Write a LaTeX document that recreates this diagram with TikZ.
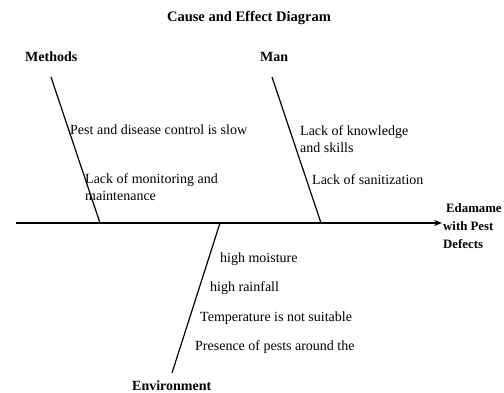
\documentclass[tikz,border=0pt]{standalone}
\usepackage{fontspec}
\setmainfont{Liberation Serif}
\usepackage{tikz}
\usetikzlibrary{arrows.meta,positioning}

\begin{document}
\begin{tikzpicture}[x=1pt,y=-1pt,
  cause/.style={font=\fontsize{14}{17}\selectfont, anchor=west, align=left, inner sep=0pt},
  group/.style={font=\fontsize{14}{17}\selectfont\bfseries, inner sep=0pt},
  bone/.style={line width=1.2pt}]
\useasboundingbox (0,0) rectangle (504,393);
\node[font=\fontsize{14.5}{17}\selectfont\bfseries, inner sep=0pt] (title) at (249,18) {Cause and Effect Diagram};

% spine and effect
\coordinate (tail) at (16,223);
\node[font=\fontsize{12.8}{18}\selectfont\bfseries, anchor=west, align=left, inner sep=0pt] (effect) at (443,226)
  {\hspace*{3pt}Edamame\\with Pest\\Defects};
\draw[line width=1.8pt, -{Stealth[length=8pt,width=6pt]}] (tail) -- (442,223);

% Methods
\node[group, anchor=west] (methods) at (25,57) {Methods};
\coordinate (mtop) at (51,77);
\coordinate (mfoot) at (100,223);
\draw[bone] (mtop) -- (mfoot);
\node[cause] (m1) at (70,130) {Pest and disease control is slow};
\node[cause] (m2) at (85,187) {Lack of monitoring and\\maintenance};

% Man
\node[group, anchor=west] (man) at (260,57) {Man};
\coordinate (ntop) at (272,77);
\coordinate (nfoot) at (321,223);
\draw[bone] (ntop) -- (nfoot);
\node[cause] (n1) at (300,139) {Lack of knowledge\\and skills};
\node[cause] (n2) at (312,180) {Lack of sanitization};

% Environment
\node[group, anchor=west] (env) at (132,385.5) {Environment};
\coordinate (etop) at (220,223);
\coordinate (efoot) at (172,373);
\draw[bone] (etop) -- (efoot);
\node[cause] (e1) at (220,259) {high moisture};
\node[cause] (e2) at (210,288) {high rainfall};
\node[cause] (e3) at (200,318) {Temperature is not suitable};
\node[cause] (e4) at (195,347) {Presence of pests around the};
\end{tikzpicture}
\end{document}
